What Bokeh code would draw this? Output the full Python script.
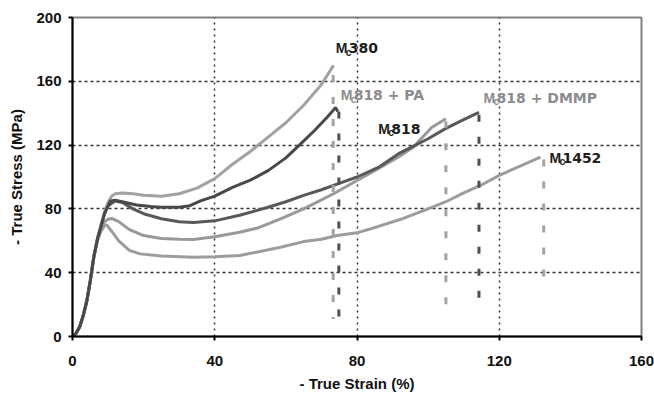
from bokeh.plotting import figure
from bokeh.models import Range1d, Label, FixedTicker
from bokeh.embed import file_html
from bokeh.resources import INLINE

# ---- data ----
strain_380 = [0, 1, 2, 3, 4, 5, 6, 7, 8, 9, 10, 11, 12, 14, 17, 20, 25, 30, 35, 40, 45, 50, 55, 60, 65, 70, 73.4]
stress_380 = [0, 2, 6, 13, 22, 35, 50, 61, 70, 78, 84, 88, 89.5, 90, 89.5, 88.5, 88, 89.5, 93, 99, 108, 116, 125, 134, 145, 158, 170]

strain_pa = [0, 1, 2, 3, 4, 5, 6, 7, 8, 9, 10, 10.7, 12, 14, 18, 22, 25, 30, 33, 36, 40, 45, 50, 55, 60, 64, 68, 71.6, 74, 74.6]
stress_pa = [0, 2, 6, 13, 22, 35, 50, 61, 69, 77, 82, 85, 85.5, 84.5, 82.5, 81.5, 81, 81, 82, 85, 88, 93.5, 98, 104, 112, 120.5, 129, 137.5, 143.5, 141]

strain_818 = [0, 1, 2, 3, 4, 5, 6, 7, 8, 9, 10, 12, 14, 17, 20, 25, 30, 34, 40, 47, 55, 60, 65, 70, 75, 80, 86, 92, 96, 100, 105, 110, 114.3]
stress_818 = [0, 2, 6, 13, 22, 35, 50, 61, 69, 77, 82, 85, 84, 80, 77, 73.8, 72, 71.5, 72.5, 76, 81, 84.5, 88.5, 92, 96, 100, 106, 115, 119.5, 124, 130.5, 136, 140.5]

strain_dmmp = [0, 1, 2, 3, 4, 5, 6, 7, 8, 9, 10, 11, 13, 16, 20, 25, 30, 34, 40, 47, 52, 58.5, 65, 73.4, 80, 86.6, 92, 96, 98, 101, 105]
stress_dmmp = [0, 2, 6, 13, 22, 35, 50, 61, 68, 72, 73.5, 74, 72, 67, 63.3, 61.5, 61, 60.8, 62.5, 65.4, 68, 73.8, 80, 89.5, 97.8, 106, 113, 119, 124, 131, 136.5]

strain_1452 = [0, 1, 2, 3, 4, 5, 6, 7, 8, 9, 9.6, 11, 13, 16, 19, 25, 34, 40, 47, 52, 58.5, 65, 70, 74.4, 80, 86, 93, 100, 105, 110, 115, 120, 126, 131.6]
stress_1452 = [0, 2, 6, 13, 22, 35, 50, 60, 66, 69.5, 70, 66, 60, 54, 51.8, 50.5, 49.7, 50, 50.8, 53, 56, 59.5, 61, 63.3, 65, 69, 74, 80, 84.5, 90, 95, 101, 107, 112.4]

# fracture drops (vertical dashed lines)
drop_x = [73.3, 74.9, 105.0, 114.3, 132.5]
drop_top = [164, 141, 135, 139, 111]
drop_bottom = [11, 10, 20, 18, 35]

x_ticks = [0, 40, 80, 120, 160]
y_ticks = [0, 40, 80, 120, 160, 200]

FONT = "Liberation Sans"
LABEL_FONT = "DejaVu Sans"
LIGHT = "#a2a2a2"
DARK = "#4e4e4e"
drop_colors = [LIGHT, DARK, LIGHT, DARK, LIGHT]

p = figure(width=654, height=396, output_backend="svg", toolbar_location=None,
           x_range=Range1d(0, 160), y_range=Range1d(0, 200),
           min_border_left=72, min_border_right=13, min_border_top=17, min_border_bottom=60,
           background_fill_color="white", border_fill_color="white")

p.outline_line_color = "#808080"
p.outline_line_width = 2

for ax, ticks in ((p.xaxis, x_ticks), (p.yaxis, y_ticks)):
    ax.ticker = FixedTicker(ticks=ticks)
    ax.axis_line_color = "black"
    ax.axis_line_width = 2
    ax.major_tick_line_color = "black"
    ax.major_tick_line_width = 2
    ax.major_tick_in = 0
    ax.major_tick_out = 4
    ax.minor_tick_line_color = None
    ax.major_label_text_font = FONT
    ax.major_label_text_font_style = "bold"
    ax.major_label_text_font_size = "15px"
    ax.major_label_text_color = "#111111"
    ax.axis_label_text_font = FONT
    ax.axis_label_text_font_style = "bold"
    ax.axis_label_text_font_size = "15px"
    ax.axis_label_text_color = "#111111"

p.xaxis.axis_label = "- True Strain (%)"
p.yaxis.axis_label = "- True Stress (MPa)"
p.xaxis.major_label_standoff = 15
p.xaxis.axis_label_standoff = 6
p.yaxis.major_label_standoff = 7
p.yaxis.axis_label_standoff = 8

p.xgrid.ticker = FixedTicker(ticks=x_ticks)
p.ygrid.ticker = FixedTicker(ticks=y_ticks)
p.xgrid.grid_line_color = "#333333"
p.xgrid.grid_line_dash = "2 4"
p.xgrid.grid_line_width = 1.5
p.ygrid.grid_line_color = "#333333"
p.ygrid.grid_line_dash = "3 3"
p.ygrid.grid_line_width = 1.5

# curves
p.line(strain_1452, stress_1452, line_color="#9c9c9c", line_width=3)
p.line(strain_dmmp, stress_dmmp, line_color="#999999", line_width=3)
p.line(strain_818, stress_818, line_color="#585858", line_width=3)
p.line(strain_380, stress_380, line_color=LIGHT, line_width=3)
p.line(strain_pa, stress_pa, line_color="#484848", line_width=3)

p.segment(x0=drop_x, y0=drop_top, x1=drop_x, y1=drop_bottom,
          line_color=drop_colors, line_width=3, line_dash="7 15")

# labels: M + subscript c + rest
def add_label(x, y, rest, color):
    common = dict(x=x, y=y, text_font_style="bold",
                  text_color=color, text_baseline="alphabetic", text_align="left")
    p.add_layout(Label(text="M", text_font=FONT, text_font_size="14px", **common))
    p.add_layout(Label(text="c", text_font=FONT, text_font_size="10px", x_offset=10, y_offset=-4, **common))
    p.add_layout(Label(text=rest, text_font=LABEL_FONT, text_font_size="14px", x_offset=13, **common))

add_label(74.0, 180.6, "380", "#1e1e1e")
add_label(75.4, 151.1, "818 + PA", "#8c8c8c")
add_label(86.0, 130.4, "818", "#1e1e1e")
add_label(115.6, 149.8, "818 + DMMP", "#8c8c8c")
add_label(134.1, 112.2, "1452", "#1e1e1e")

open("out.html", "w").write(file_html(p, INLINE))
